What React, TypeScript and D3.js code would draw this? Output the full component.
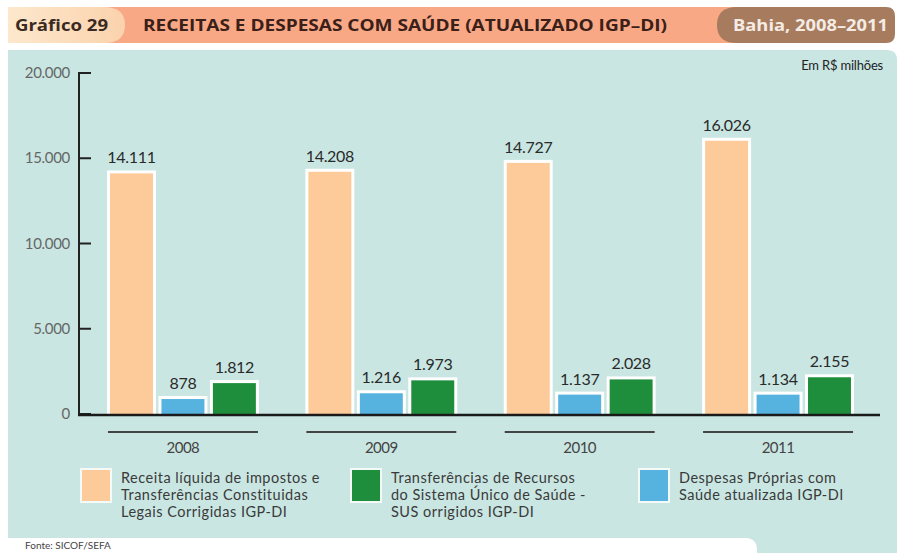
import * as d3 from 'd3';

const years = ['2008', '2009', '2010', '2011'];
const receita = [14111, 14208, 14727, 16026];
const despesas = [878, 1216, 1137, 1134];
const transferencias = [1812, 1973, 2028, 2155];
const yTicks = [0, 5000, 10000, 15000, 20000];

const seriesKeys = ['receita', 'despesas', 'transferencias'];
const seriesValues: Record<string, number[]> = { receita, despesas, transferencias };
const seriesColors: Record<string, string> = {
  receita: '#fdca9a',
  despesas: '#56b2df',
  transferencias: '#1f8e3c',
};

const legendItems = [
  { key: 'receita', lines: ['Receita líquida de impostos e', 'Transferências Constituidas', 'Legais Corrigidas IGP-DI'] },
  { key: 'transferencias', lines: ['Transferências de Recursos', 'do Sistema Único de Saúde -', 'SUS orrigidos IGP-DI'] },
  { key: 'despesas', lines: ['Despesas Próprias com', 'Saúde atualizada IGP-DI'] },
];

const ptBR = d3.formatLocale({ decimal: ',', thousands: '.', grouping: [3], currency: ['R$', ''] });
const fmt = ptBR.format(',d');

const W = 897;
const H = 553;
const HEAD_FONT = '"Open Sans", "DejaVu Sans", sans-serif';
const FONT = 'Lato, "Open Sans", sans-serif';

export default function App() {
  const x0 = d3.scaleBand().domain(years).range([79, 882]).paddingInner(0.244).paddingOuter(0.146);
  const x1 = d3.scaleBand().domain(seriesKeys).range([0, x0.bandwidth()]).paddingInner(0.165).paddingOuter(0.04);
  const y = d3.scaleLinear().domain([0, 20000]).range([414, 73]);

  const legendX = [82, 352, 640];

  return (
    <svg width={W} height={H} style={{ position: 'absolute', left: 0, top: 0 }} fontFamily={FONT}>
      <defs>
        <linearGradient id="lbox" x1="0" x2="1" y1="0" y2="0">
          <stop offset="0%" stopColor="#fde8cc" />
          <stop offset="100%" stopColor="#fbd2ad" />
        </linearGradient>
      </defs>
      <rect width={W} height={H} fill="#ffffff" />

      {/* header */}
      <rect x={100} y={7} width={640} height={36} fill="#f8a885" />
      <path d="M8,7 H104 Q125,7 125,25 Q125,43 104,43 H8 Z" fill="url(#lbox)" />
      <path d="M737,7 H886 Q895,7 895,16 V34 Q895,43 886,43 H737 Q717,43 717,25 Q717,7 737,7 Z" fill="#a67b5e" />
      <g fontFamily={HEAD_FONT} fontSize={16} fontWeight={700}>
        <text x={15} y={31} fill="#3a2a22" textLength={93} lengthAdjust="spacingAndGlyphs">Gráfico 29</text>
        <text x={143} y={31} fill="#3a2018" textLength={524} lengthAdjust="spacingAndGlyphs">RECEITAS E DESPESAS COM SAÚDE (ATUALIZADO IGP–DI)</text>
        <text x={733} y={31} fill="#f4ece4" textLength={155} lengthAdjust="spacingAndGlyphs">Bahia, 2008–2011</text>
      </g>

      {/* panel */}
      <path d={`M8,50 H887 Q897,50 897,60 V${H} H8 Z`} fill="#c9e6e2" />
      <path d={`M8,538 H745 Q757,538 757,550 V${H} H8 Z`} fill="#ffffff" />
      <text x={25} y={549} fontSize={10} fill="#444">Fonte: SICOF/SEFA</text>

      <text x={883} y={70} fontSize={13} fill="#222" textAnchor="end" letterSpacing={-0.2}>Em R$ milhões</text>

      {/* y axis */}
      <line x1={79} x2={79} y1={y(20000) - 1} y2={y(0) + 1} stroke="#222" strokeWidth={2} />
      {yTicks.map((t) => (
        <g key={t}>
          <line x1={79} x2={91} y1={y(t)} y2={y(t)} stroke="#222" strokeWidth={2} />
          <text x={70} y={y(t) + 5} fontSize={15} fill="#666" textAnchor="end" letterSpacing={-0.3}>{fmt(t)}</text>
        </g>
      ))}

      {/* bars */}
      {years.map((yr, i) => (
        <g key={yr} transform={`translate(${x0(yr)},0)`}>
          {seriesKeys.map((k) => {
            const v = seriesValues[k][i];
            const bx = x1(k) as number;
            const bw = x1.bandwidth();
            return (
              <g key={k}>
                <rect x={bx - 3} y={y(v) - 3} width={bw + 6} height={y(0) - y(v) + 3} fill="#ffffff" />
                <rect x={bx} y={y(v)} width={bw} height={y(0) - y(v)} fill={seriesColors[k]} />
                <text x={bx + bw / 2} y={y(v) - 10} fontSize={16} fill="#2a2a2a" textAnchor="middle" letterSpacing={-0.3}>{fmt(v)}</text>
              </g>
            );
          })}
          <line x1={0} x2={x0.bandwidth()} y1={432} y2={432} stroke="#444" strokeWidth={2} />
          <text x={x0.bandwidth() / 2} y={453} fontSize={15} fill="#444" textAnchor="middle" letterSpacing={-0.5}>{yr}</text>
        </g>
      ))}
      <line x1={78} x2={880} y1={y(0) + 1} y2={y(0) + 1} stroke="#1a1a1a" strokeWidth={2.5} />

      {/* legend */}
      {legendItems.map((it, i) => (
        <g key={it.key} transform={`translate(${legendX[i]},470)`}>
          <rect x={-2} y={-2} width={32} height={35} fill="#f4faf8" />
          <rect x={0} y={0} width={28} height={31} fill={seriesColors[it.key]} />
          {it.lines.map((ln, j) => (
            <text key={j} x={39} y={13 + j * 17} fontSize={14.5} fill="#3a3a3a" letterSpacing={0.5}>{ln}</text>
          ))}
        </g>
      ))}
    </svg>
  );
}
